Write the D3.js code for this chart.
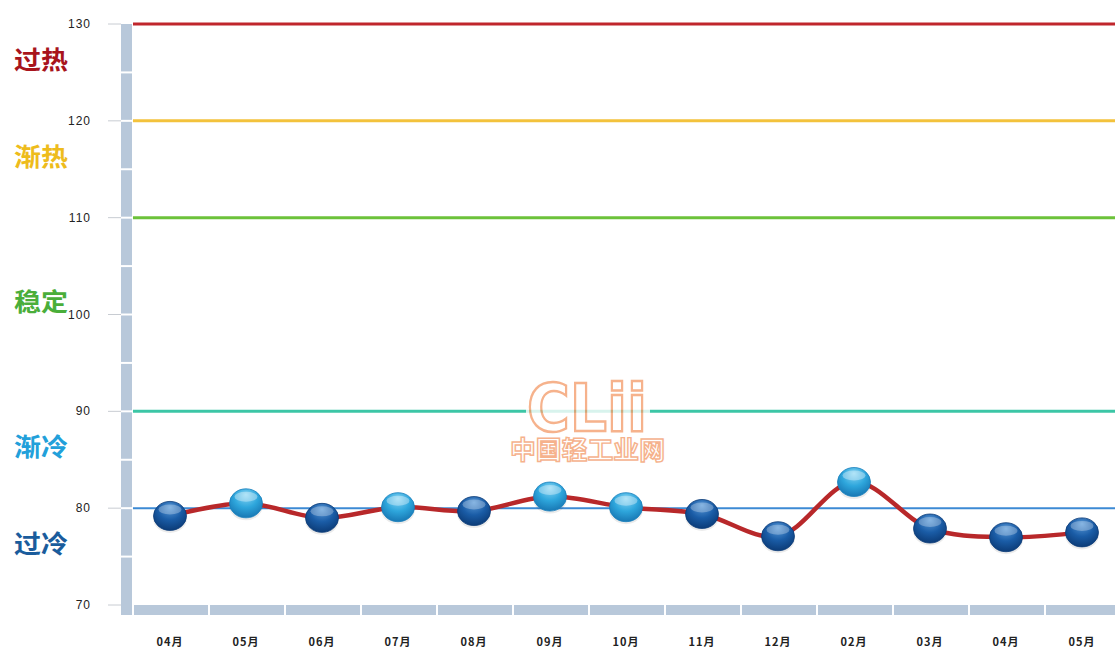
<!DOCTYPE html>
<html>
<head>
<meta charset="utf-8">
<script src="https://cdn.jsdelivr.net/npm/d3@7"></script>
<style>
  body { margin: 0; background: #fff; }
  svg { display: block; font-family: "Liberation Sans", Arial, sans-serif; }
</style>
</head>
<body>
<svg id="chart" width="1115" height="650"></svg>
<script>
// data
let months = ["04月", "05月", "06月", "07月", "08月", "09月", "10月", "11月", "12月", "02月", "03月", "04月", "05月"]
let values = [79.2, 80.5, 79.0, 80.1, 79.7, 81.2, 80.1, 79.4, 77.1, 82.7, 77.9, 77.0, 77.5]
let yTicks = [70, 80, 90, 100, 110, 120, 130]
let levels = [130, 120, 110, 90, 80]
let levelColors = ["#c0262c", "#f3c23c", "#6cc23a", "#3cc6a6", "#3c8ad4"]
let zoneNames = ["过热", "渐热", "稳定", "渐冷", "过冷"]
let zoneMid = [126.3, 116.3, 101.3, 86.3, 76.3]
let zoneColors = ["#a8141c", "#eebc1c", "#4aae3a", "#22a0da", "#1a5c9c"]

let svg = d3.select("#chart")
let y = d3.scaleLinear().domain([70, 130]).range([605, 24])
let x = d3.scaleBand().domain(d3.range(months.length)).range([133, 133 + 76 * months.length]).padding(0)
let cx = i => x(i) + x.bandwidth() / 2 - 1

// gradients for the balls
let defs = svg.append("defs")
let mkGrad = (id, light, mid, dark) => {
    let g = defs.append("radialGradient").attr("id", id)
        .attr("cx", "50%").attr("cy", "35%").attr("r", "65%").attr("fx", "50%").attr("fy", "20%")
    g.append("stop").attr("offset", "0%").attr("stop-color", light)
    g.append("stop").attr("offset", "55%").attr("stop-color", mid)
    g.append("stop").attr("offset", "100%").attr("stop-color", dark)
}
mkGrad("ballDark", "#5a9ad8", "#1a5ca6", "#0c3c78")
mkGrad("ballLight", "#8ad6f4", "#2ea6dc", "#1878b4")

// axis bars (segmented, pale blue-grey)
let barCol = "#b8c8da"
svg.append("rect").attr("x", 121).attr("y", 24).attr("width", 11).attr("height", 591).attr("fill", barCol)
svg.append("rect").attr("x", 121).attr("y", 605).attr("width", 994).attr("height", 10).attr("fill", barCol)
// white gaps in vertical bar every 5 units
svg.selectAll(".vgap").data(d3.range(75, 130, 5)).enter().append("line")
    .attr("x1", 121).attr("x2", 132)
    .attr("y1", d => y(d)).attr("y2", d => y(d))
    .attr("stroke", "#fff").attr("stroke-width", 2)
// white gaps in horizontal bar at band edges
svg.selectAll(".hgap").data(d3.range(months.length)).enter().append("line")
    .attr("x1", d => x(d)).attr("x2", d => x(d))
    .attr("y1", 605).attr("y2", 615)
    .attr("stroke", "#fff").attr("stroke-width", 2)

// y ticks and labels
svg.selectAll(".tick").data(yTicks).enter().append("line")
    .attr("x1", 108).attr("x2", 121)
    .attr("y1", d => y(d)).attr("y2", d => y(d))
    .attr("stroke", "#c8ccd2").attr("stroke-width", 1)
svg.selectAll(".tlab").data(yTicks).enter().append("text")
    .attr("x", 91).attr("y", d => y(d) + 4)
    .attr("text-anchor", "end").attr("font-size", 12).attr("fill", "#222")
    .attr("letter-spacing", 1)
    .text(d => d)

// level lines
svg.selectAll(".level").data(levels).enter().append("line")
    .attr("x1", 133).attr("x2", 1115)
    .attr("y1", d => y(d)).attr("y2", d => y(d))
    .attr("stroke", (d, i) => levelColors[i])
    .attr("stroke-width", (d, i) => i == 4 ? 2 : 3)

// zone names
svg.selectAll(".zone").data(zoneNames).enter().append("text")
    .attr("x", 14).attr("y", (d, i) => y(zoneMid[i]) + 9)
    .attr("font-family", "'Noto Sans CJK SC', sans-serif")
    .attr("font-weight", "bold").attr("font-size", 25)
    .attr("fill", (d, i) => zoneColors[i])
    .attr("textLength", 54).attr("lengthAdjust", "spacingAndGlyphs")
    .text(d => d)

// watermark
let wm = svg.append("g").attr("opacity", 0.8)
wm.append("rect").attr("x", 526).attr("y", 394).attr("width", 124).attr("height", 34).attr("fill", "#fff")
wm.append("text").attr("x", 527).attr("y", 431)
    .attr("font-size", 66).attr("font-weight", "bold")
    .attr("font-family", "'DejaVu Sans', sans-serif")
    .attr("fill", "#fff").attr("stroke", "#f4a070").attr("stroke-width", 2.5)
    .attr("textLength", 120).attr("lengthAdjust", "spacingAndGlyphs")
    .text("CLii")
wm.append("text").attr("x", 510).attr("y", 459)
    .attr("font-size", 25).attr("font-weight", "bold")
    .attr("font-family", "'Noto Sans CJK SC', sans-serif")
    .attr("fill", "#fff").attr("stroke", "#f4a070").attr("stroke-width", 1.4)
    .attr("textLength", 155).attr("lengthAdjust", "spacingAndGlyphs")
    .text("中国轻工业网")

// red smooth line
let line = d3.line().x((d, i) => cx(i)).y(d => y(d)).curve(d3.curveCatmullRom.alpha(0.5))
svg.append("path").datum(values).attr("d", line)
    .attr("fill", "none").attr("stroke", "#b8282a").attr("stroke-width", 4.5)
    .attr("stroke-linecap", "round")

// balls
let balls = svg.selectAll(".ball").data(values).enter().append("g")
    .attr("transform", (d, i) => `translate(${cx(i)},${y(d)})`)
balls.append("ellipse").attr("rx", 17).attr("ry", 15).attr("cy", 2)
    .attr("fill", "#000").attr("opacity", 0.08)
balls.append("ellipse").attr("rx", 16.5).attr("ry", 14.5)
    .attr("fill", d => d >= 80 ? "url(#ballLight)" : "url(#ballDark)")
    .attr("stroke", d => d >= 80 ? "#1a80bc" : "#0c3c78").attr("stroke-width", 0.8)
balls.append("ellipse").attr("rx", 11.5).attr("ry", 5).attr("cy", -6.5)
    .attr("fill", "#fff").attr("opacity", d => d >= 80 ? 0.35 : 0.28)

// month labels
svg.selectAll(".mlab").data(months).enter().append("text")
    .attr("x", (d, i) => cx(i)).attr("y", 646)
    .attr("text-anchor", "middle").attr("font-size", 11).attr("font-weight", "bold")
    .attr("font-family", "'Noto Sans CJK SC', sans-serif")
    .attr("fill", "#222").attr("letter-spacing", 1)
    .text(d => d)
</script>
</body>
</html>
